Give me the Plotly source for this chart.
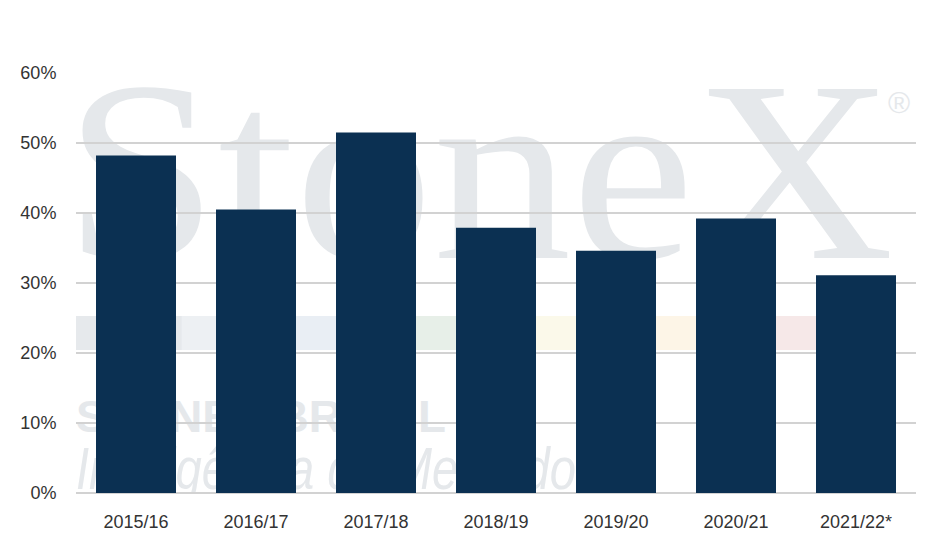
import base64
import plotly.graph_objects as go

# Data
seasons = ["2015/16", "2016/17", "2017/18", "2018/19", "2019/20", "2020/21", "2021/22*"]
shares = [0.482, 0.405, 0.515, 0.379, 0.346, 0.392, 0.311]
y_ticks = [0, 0.1, 0.2, 0.3, 0.4, 0.5, 0.6]

BAR_COLOR = "#0b3052"
WM = "#e5e8eb"

# Watermark (logo) drawn below the grid, in plot-area pixel coordinates (840 x 420)
stripe_cols = ["#e6e9ec", "#edf0f3", "#e9eef4", "#e7efe8", "#fbf9ea", "#fdf5e7", "#f6e8e8"]
stripe = ""
seg_w = 740 / len(stripe_cols)
for i, c in enumerate(stripe_cols):
    stripe += f'<rect x="{i*seg_w:.1f}" y="243" width="{seg_w+0.5:.1f}" height="34" fill="{c}"/>'

svg = f'''<svg xmlns="http://www.w3.org/2000/svg" width="840" height="420" viewBox="0 0 840 420">
<text x="-12" y="185" font-family="Liberation Serif, DejaVu Serif, serif" font-size="258" fill="{WM}" textLength="830" lengthAdjust="spacingAndGlyphs">StoneX</text>
<text x="812" y="40" font-family="Liberation Sans, sans-serif" font-size="30" fill="{WM}">®</text>
{stripe}
<text x="0" y="359" font-family="Liberation Sans, sans-serif" font-weight="bold" font-size="44" fill="{WM}" textLength="370" lengthAdjust="spacingAndGlyphs">STONEX BRASIL</text>
<text x="0" y="416" font-family="Liberation Sans, sans-serif" font-style="italic" font-size="60" fill="{WM}" textLength="500" lengthAdjust="spacingAndGlyphs">Inteligência de Mercado</text>
</svg>'''
src = "data:image/svg+xml;base64," + base64.b64encode(svg.encode("utf-8")).decode("ascii")

fig = go.Figure(
    go.Bar(x=seasons, y=shares, marker=dict(color=BAR_COLOR, line=dict(width=0)),
           hoverinfo="x+y")
)

# The page body has an 8px margin, so the figure is sized/offset to compensate
fig.update_layout(
    width=923, height=532,
    margin=dict(l=68, r=15, t=65, b=47, pad=0, autoexpand=False),
    paper_bgcolor="white", plot_bgcolor="rgba(0,0,0,0)",
    bargap=1/3,
    showlegend=False,
    font=dict(family="Liberation Sans, Arial, sans-serif", size=18, color="#333333"),
    images=[dict(source=src, xref="paper", yref="paper", x=0, y=1, sizex=1, sizey=1,
                 xanchor="left", yanchor="top", sizing="stretch", layer="below")],
)
fig.update_xaxes(showgrid=False, showline=False, ticks="outside", ticklen=12,
                 automargin=False,
                 tickcolor="rgba(0,0,0,0)", tickfont=dict(size=18, color="#333333"))
fig.update_yaxes(range=[0, 0.6], tickvals=y_ticks, tickformat=".0%",
                 automargin=False,
                 showgrid=True, gridcolor="#d2d2d2", gridwidth=1.5,
                 zeroline=True, zerolinecolor="#d2d2d2", zerolinewidth=1.5,
                 showline=False, ticks="outside", ticklen=15,
                 tickcolor="rgba(0,0,0,0)", tickfont=dict(size=18, color="#333333"))

fig.write_html("out.html")
